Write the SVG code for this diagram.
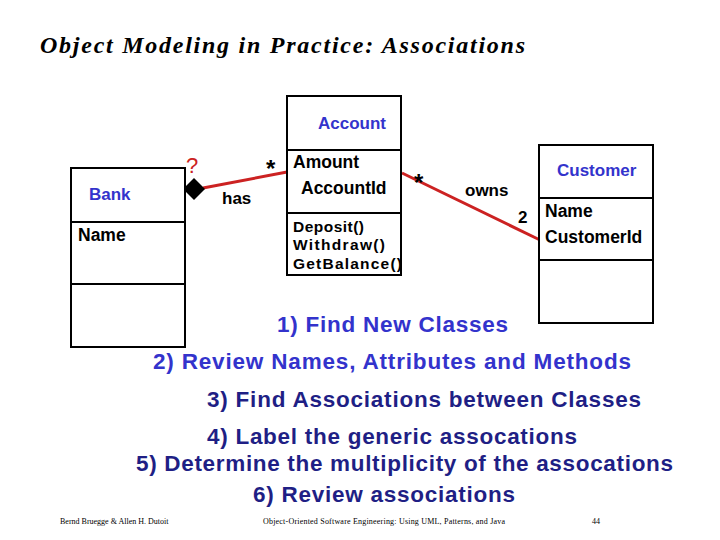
<svg xmlns="http://www.w3.org/2000/svg" width="720" height="540" viewBox="0 0 720 540">
<style>
.box{fill:#fff;stroke:#000;stroke-width:2}
.div{stroke:#000;stroke-width:2}
.cn{font-family:"Liberation Sans",Arial,sans-serif;font-weight:bold;font-size:17px;fill:#3333cc}
.at{font-family:"Liberation Sans",Arial,sans-serif;font-weight:bold;font-size:17.5px;fill:#000}
.mt{font-family:"Liberation Sans",Arial,sans-serif;font-weight:bold;font-size:15.5px;fill:#000}
.lbl{font-family:"Liberation Sans",Arial,sans-serif;font-weight:bold;font-size:17px;fill:#000}
.star{font-family:"Liberation Sans",Arial,sans-serif;font-weight:bold;font-size:24px;fill:#000}
.assoc{stroke:#cc2222;stroke-width:3;fill:none}
.s1{font-family:"Liberation Sans",Arial,sans-serif;font-weight:bold;font-size:22.5px;fill:#3333cc}
.s2{font-family:"Liberation Sans",Arial,sans-serif;font-weight:bold;font-size:22.5px;fill:#1f1f85}
.ft{font-family:"Liberation Serif","Times New Roman",serif;font-size:8px;fill:#000}
</style>
<rect width="720" height="540" fill="#fff"/>
<text x="40" y="53" font-family="Liberation Serif,'Times New Roman',serif" font-style="italic" font-weight="bold" font-size="24" textLength="485" fill="#000">Object Modeling in Practice: Associations</text>

<g id="connectors">
<line class="assoc" x1="203" y1="188" x2="287" y2="172"/>
<polygon points="183,189 194,178 205,189 194,200" fill="#000"/>
<line class="assoc" x1="402" y1="173" x2="540" y2="240"/>
<text x="186" y="173" font-family="Liberation Sans,Arial,sans-serif" font-size="22" fill="#cc2222">?</text>
<text x="266" y="177" class="star">*</text>
<text x="222" y="204" class="lbl">has</text>
<text x="414" y="191" class="star">*</text>
<text x="465" y="196" class="lbl">owns</text>
<text x="518" y="223" class="lbl">2</text>
</g>

<g id="bank">
<rect class="box" x="71" y="168" width="114" height="179"/>
<line class="div" x1="71" y1="222" x2="185" y2="222"/>
<line class="div" x1="71" y1="284" x2="185" y2="284"/>
<text class="cn" x="89" y="200">Bank</text>
<text class="at" x="78" y="241">Name</text>
</g>

<g id="account">
<rect class="box" x="287" y="96" width="114" height="179"/>
<line class="div" x1="287" y1="150" x2="401" y2="150"/>
<line class="div" x1="287" y1="213" x2="401" y2="213"/>
<text class="cn" x="318" y="129">Account</text>
<text class="at" x="293" y="168">Amount</text>
<text class="at" x="301" y="194">AccountId</text>
<text class="mt" x="293" y="232" textLength="71">Deposit()</text>
<text class="mt" x="293" y="250" textLength="92">Withdraw()</text>
<text class="mt" x="293" y="269" textLength="109">GetBalance()</text>
</g>

<g id="customer">
<rect class="box" x="539" y="145" width="114" height="178"/>
<line class="div" x1="539" y1="198" x2="653" y2="198"/>
<line class="div" x1="539" y1="260" x2="653" y2="260"/>
<text class="cn" x="557" y="176">Customer</text>
<text class="at" x="545" y="217">Name</text>
<text class="at" x="545" y="243">CustomerId</text>
</g>

<g id="steps">
<text class="s1" x="277" y="332" textLength="231">1) Find New Classes</text>
<text class="s1" x="153" y="369" textLength="478">2) Review Names, Attributes and Methods</text>
<text class="s2" x="207" y="407" textLength="434">3) Find Associations between Classes</text>
<text class="s2" x="207" y="444" textLength="370">4) Label the generic assocations</text>
<text class="s2" x="136" y="471" textLength="537">5) Determine the multiplicity of the assocations</text>
<text class="s2" x="253" y="502" textLength="262">6) Review associations</text>
</g>

<g id="footer">
<text class="ft" x="60" y="524">Bernd Bruegge &amp; Allen H. Dutoit</text>
<text class="ft" x="263" y="524" textLength="242">Object-Oriented Software Engineering: Using UML, Patterns, and Java</text>
<text class="ft" x="592" y="524">44</text>
</g>
</svg>
